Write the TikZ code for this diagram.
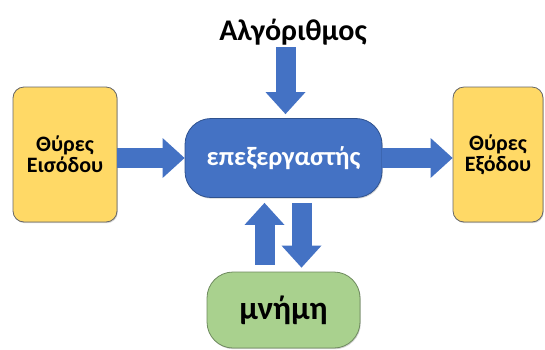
\documentclass[tikz,border=0pt]{standalone}
\usepackage{fontspec}
\setmainfont{Carlito}
\usepackage{tikz}
\usetikzlibrary{arrows.meta,positioning,shadows}

\definecolor{portyellow}{HTML}{FFD966}
\definecolor{cpublue}{HTML}{4472C4}
\definecolor{cpuborder}{HTML}{2F528F}
\definecolor{memgreen}{HTML}{A9D18E}
\definecolor{memborder}{HTML}{6E8A5E}

\begin{document}
\begin{tikzpicture}[
      x=1pt, y=1pt,
      box/.style={rectangle, draw=gray!80!black, line width=0.8pt, align=center,
        font=\bfseries\fontsize{22}{21}\selectfont,
        drop shadow={opacity=0.35, shadow xshift=0.8pt, shadow yshift=-1.2pt}},
      portbox/.style={box, fill=portyellow, rounded corners=11pt,
        minimum width=104pt, minimum height=135pt},
      cpubox/.style={box, fill=cpublue, draw=cpuborder, text=white, rounded corners=26pt,
        minimum width=197pt, minimum height=79pt, font=\bfseries\fontsize{26.5}{30}\selectfont},
      membox/.style={box, fill=memgreen, draw=memborder, rounded corners=26pt,
        minimum width=153pt, minimum height=76pt, font=\bfseries\fontsize{33}{38}\selectfont},
      blockarrow/.style={draw=cpublue, line width=20pt,
        -{Triangle[length=22pt, width=40pt, line width=0pt]}},
    ]
    \useasboundingbox (0,0) rectangle (545,-349);

    \node[portbox] (in) at (65,-154.5) {Θύρες\\Εισόδου};
    \node[cpubox] (cpu) at (283.5,-158) {επεξεργαστής};
    \node[portbox, minimum width=90pt] (out) at (498,-154.5) {Θύρες\\Εξόδου};
    \node[membox] (mem) at (283.5,-310) {μνήμη};
    \node[font=\bfseries\fontsize{30}{34}\selectfont, inner sep=1pt, anchor=base] (algo) at (293,-40) {Αλγόριθμος};

    % arrows
    \draw[blockarrow] (in.east |- cpu.west) -- (cpu.west);
    \draw[blockarrow] (cpu.east) -- (out.west |- cpu.east);
    \draw[blockarrow, shorten >=4pt] (285.5,-47) -- (285.5,0 |- cpu.north);
    \draw[blockarrow, shorten <=7pt, shorten >=5pt] ([xshift=-19pt]mem.north) -- ([xshift=-19pt]cpu.south);
    \draw[blockarrow, shorten <=5pt, shorten >=4pt] ([xshift=18pt]cpu.south) -- ([xshift=18pt]mem.north);
\end{tikzpicture}
\end{document}
